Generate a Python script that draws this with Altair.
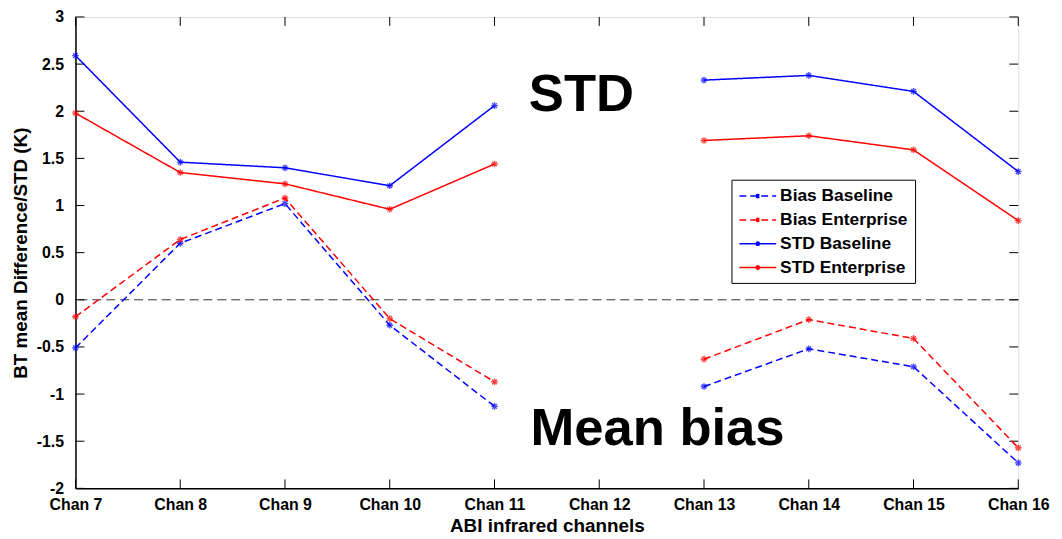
import altair as alt
import pandas as pd

channels = [7, 8, 9, 10, 11, 12, 13, 14, 15, 16]
bias_baseline = [-0.51, 0.60, 1.02, -0.27, -1.13, None, -0.92, -0.52, -0.71, -1.73]
bias_enterprise = [-0.18, 0.64, 1.08, -0.20, -0.87, None, -0.63, -0.21, -0.41, -1.57]
std_baseline = [2.59, 1.46, 1.40, 1.21, 2.06, None, 2.33, 2.38, 2.21, 1.36]
std_enterprise = [1.98, 1.35, 1.23, 0.96, 1.44, None, 1.69, 1.74, 1.59, 0.84]

series_names = ["Bias Baseline", "Bias Enterprise", "STD Baseline", "STD Enterprise"]
series_colors = ["#0000ff", "#ff0000", "#0000ff", "#ff0000"]
series_dash = [[7, 4], [7, 4], [1, 0], [1, 0]]

y_ticks = [-2, -1.5, -1, -0.5, 0, 0.5, 1, 1.5, 2, 2.5, 3]

annot_text = ["STD", "Mean bias"]
annot_x = [11.83, 12.556]
annot_y = [2.0, -1.537]

rows = []
for name, vals in zip(series_names, [bias_baseline, bias_enterprise, std_baseline, std_enterprise]):
    for c, v in zip(channels, vals):
        if v is None:
            continue
        rows.append({"series": name, "chan": c, "value": v, "segment": "a" if c < 12 else "b"})
df = pd.DataFrame(rows)

W, H = 950, 475
FONT = "Liberation Sans"

color_scale = alt.Scale(domain=series_names, range=series_colors)
dash_scale = alt.Scale(domain=series_names, range=series_dash)
xscale = alt.Scale(domain=[7, 16], nice=False, zero=False)
yscale = alt.Scale(domain=[-2, 3], nice=False, zero=False)

legend_symbol = ("M-1,0L3.353,0"
                 "M0.976,-0.2L1.376,0.2M0.976,0.2L1.376,-0.2M1.176,-0.28L1.176,0.28")

legend = alt.Legend(
    title=None, orient="none", legendX=661, legendY=164,
    strokeColor="black", fillColor="white", padding=7,
    labelFont=FONT, labelFontSize=17.5, labelFontWeight="bold", labelColor="black",
    symbolType=legend_symbol,
    symbolSize=289, symbolStrokeWidth=1.5, labelOffset=23, rowPadding=6,
    labelLimit=300,
)

base = alt.Chart(df)

lines = base.mark_line(strokeWidth=1.5).encode(
    x=alt.X("chan:Q", scale=xscale, axis=alt.Axis(
        values=channels, labelExpr="'Chan ' + datum.value", title="ABI infrared channels",
        tickSize=0, grid=False, labelFlush=False, labelPadding=8, titlePadding=4,
        labelFont=FONT, labelFontSize=16, labelFontWeight="bold", labelColor="black",
        titleFont=FONT, titleFontSize=19, titleFontWeight="bold", titleColor="black",
        domainColor="black", domainWidth=1.5)),
    y=alt.Y("value:Q", scale=yscale, axis=alt.Axis(
        values=y_ticks, labelExpr="'' + datum.value", title="BT mean Difference/STD (K)",
        tickSize=0, grid=False, labelPadding=12, titlePadding=6,
        labelFont=FONT, labelFontSize=16, labelFontWeight="bold", labelColor="black",
        titleFont=FONT, titleFontSize=19, titleFontWeight="bold", titleColor="black",
        domainColor="black", domainWidth=1.5)),
    color=alt.Color("series:N", scale=color_scale, legend=legend, sort=series_names),
    strokeDash=alt.StrokeDash("series:N", scale=dash_scale, legend=legend, sort=series_names),
    detail="segment:N",
)

points = base.mark_point(
    shape="M-1,0L1,0M-0.7,-0.7L0.7,0.7M-0.7,0.7L0.7,-0.7M0,-1L0,1",
    filled=False, size=45, strokeWidth=1.4,
).encode(
    x=alt.X("chan:Q", scale=xscale),
    y=alt.Y("value:Q", scale=yscale),
    color=alt.Color("series:N", scale=color_scale, legend=None),
)

zero = alt.Chart(pd.DataFrame({"y": [0]})).mark_rule(
    color="#333333", strokeDash=[9, 5], strokeWidth=1
).encode(y=alt.Y("y:Q", scale=yscale))

ytick_df = pd.DataFrame({"y": y_ticks})
xtick_df = pd.DataFrame({"x": channels})
TL = 9
yt_left = alt.Chart(ytick_df).mark_rule(color="black", strokeWidth=1).encode(
    y=alt.Y("y:Q", scale=yscale), x=alt.value(0), x2=alt.value(TL))
yt_right = alt.Chart(ytick_df).mark_rule(color="black", strokeWidth=1).encode(
    y=alt.Y("y:Q", scale=yscale), x=alt.value(W - TL), x2=alt.value(W))
xt_bottom = alt.Chart(xtick_df).mark_rule(color="black", strokeWidth=1).encode(
    x=alt.X("x:Q", scale=xscale), y=alt.value(H - TL), y2=alt.value(H))
xt_top = alt.Chart(xtick_df).mark_rule(color="black", strokeWidth=1).encode(
    x=alt.X("x:Q", scale=xscale), y=alt.value(0), y2=alt.value(TL))

annot = alt.Chart(pd.DataFrame({"t": annot_text, "x": annot_x, "y": annot_y})).mark_text(
    font=FONT, fontSize=53, fontWeight="bold", color="black", align="center", baseline="alphabetic"
).encode(x=alt.X("x:Q", scale=xscale), y=alt.Y("y:Q", scale=yscale), text="t:N")

chart = alt.layer(zero, yt_left, yt_right, xt_bottom, xt_top, lines, points, annot).properties(
    width=W, height=H,
    autosize=alt.AutoSizeParams(type="none"),
    padding={"left": 68, "top": 7, "right": 36, "bottom": 48},
).configure_view(stroke="black", strokeWidth=1.5).configure(background="white")

chart.save("out.html", embed_options={"renderer": "svg", "actions": False})
